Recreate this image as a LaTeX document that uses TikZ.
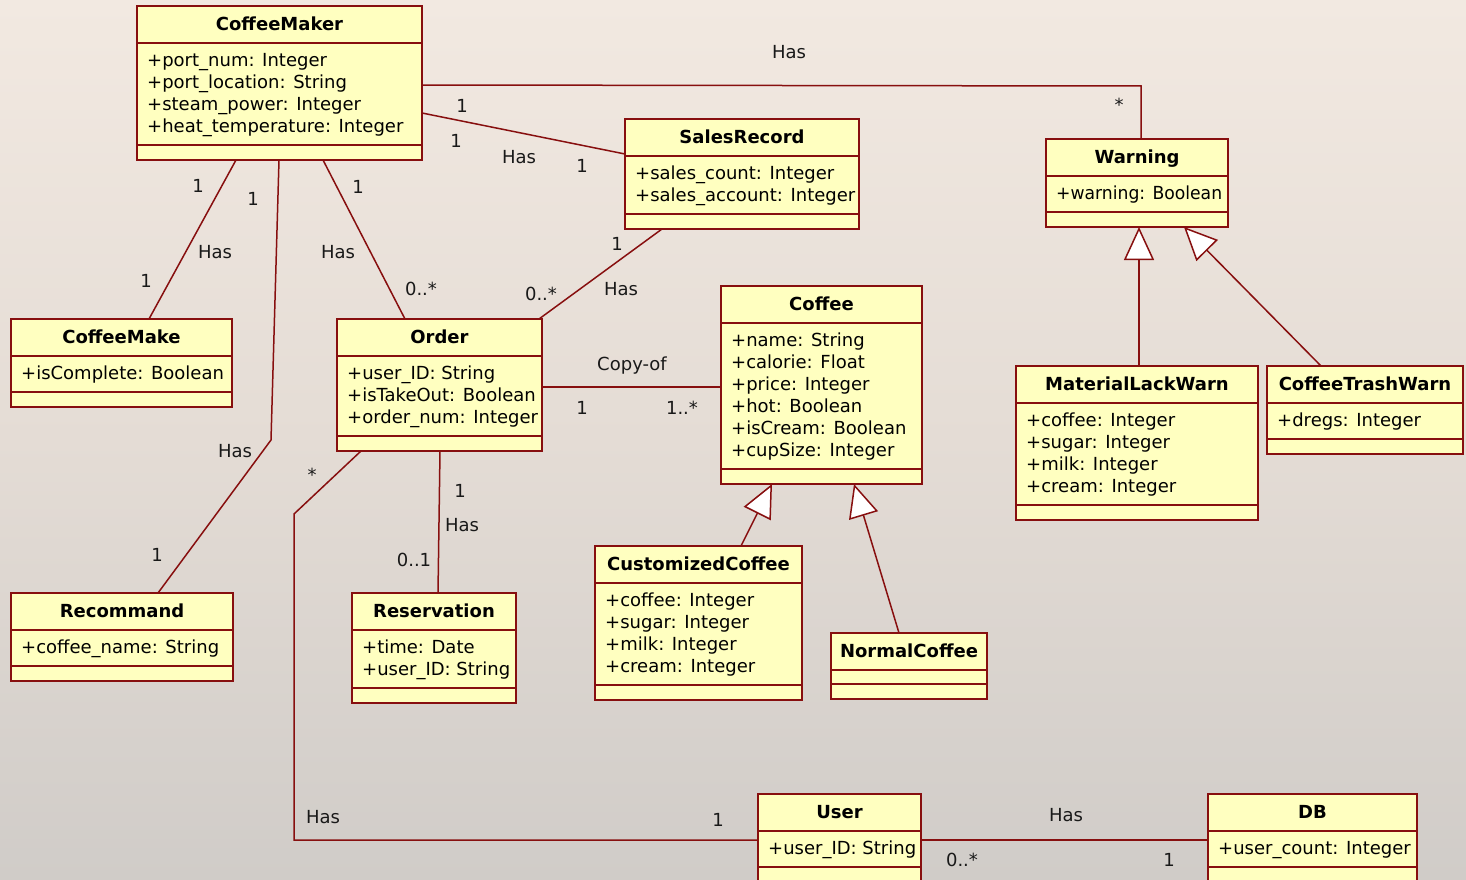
\documentclass[tikz,border=0pt]{standalone}
\usepackage{fontspec}
\setmainfont{DejaVu Sans}
\usetikzlibrary{arrows.meta,calc}
\definecolor{umlred}{RGB}{135,15,15}
\definecolor{umlfill}{RGB}{255,255,192}
\definecolor{bgtop}{RGB}{242,233,225}
\definecolor{bgmid}{RGB}{228,220,213}
\definecolor{bgbot}{RGB}{208,204,200}
\tikzset{
  clsbox/.style={draw=umlred, fill=umlfill, line width=1.8pt, inner sep=0pt, outer sep=0pt},
  clstitle/.style={font=\fontsize{18}{22}\selectfont\bfseries, inner sep=0pt},
  clsattr/.style={font=\fontsize{18}{22}\selectfont, inner sep=0pt},
  clssep/.style={draw=umlred, line width=1.8pt},
  assoc/.style={draw=umlred, line width=1.5pt},
  gen/.style={draw=umlred, line width=1.5pt, -{Triangle[length=33pt,width=30pt,fill=white]}},
  lbl/.style={font=\fontsize{18}{22}\selectfont, inner sep=0pt, text=black!90},
}
\newcommand{\umlclass}[7]{%
  \pgfmathsetmacro{\clsH}{66+22*#6}%
  \pgfmathsetmacro{\clsX}{#2+#4/2}%
  \node[clsbox, anchor=north west, minimum width=#4pt, minimum height=\clsH pt] (#1) at (#2,#3) {};
  \node[clstitle, anchor=base] (#1-t) at (\clsX,#3+24.5) {#5};
  \draw[clssep] ($(#1.north west)+(0,-37pt)$) -- ($(#1.north east)+(0,-37pt)$);
  \draw[clssep] ($(#1.south west)+(0,15pt)$) -- ($(#1.south east)+(0,15pt)$);
  \ifnum#6>0
    \foreach \t [count=\i from 0] in {#7} {\node[clsattr, anchor=base west] (#1-a\i) at (#2+10,#3+60.5+22*\i) {\t};}
  \fi
}
\begin{document}
\begin{tikzpicture}[x=1pt,y=-1pt]
\useasboundingbox (0,0) rectangle (1466,880);
\shade[top color=bgtop, bottom color=bgbot, middle color=bgmid] (0,0) rectangle (1466,880);

% classes
\umlclass{cm}{137}{6}{285}{CoffeeMaker}{4}{+port\_num: Integer,+port\_location: String,+steam\_power: Integer,+heat\_temperature: Integer}
\umlclass{sr}{625}{119}{234}{SalesRecord}{2}{+sales\_count: Integer,+sales\_account: Integer}
\umlclass{warn}{1046}{139}{182}{Warning}{1}{\scalebox{0.955}[1]{+warning: Boolean}}
\umlclass{cmk}{11}{319}{221}{CoffeeMake}{1}{+isComplete: Boolean}
\umlclass{ord}{337}{319}{205}{Order}{3}{+user\_ID: String,+isTakeOut: Boolean,+order\_num: Integer}
\umlclass{cof}{721}{286}{201}{Coffee}{6}{+name: String,+calorie: Float,+price: Integer,+hot: Boolean,+isCream: Boolean,+cupSize: Integer}
\umlclass{mlw}{1016}{366}{242}{MaterialLackWarn}{4}{+coffee: Integer,+sugar: Integer,+milk: Integer,+cream: Integer}
\umlclass{ctw}{1267}{366}{196}{CoffeeTrashWarn}{1}{+dregs: Integer}
\umlclass{rec}{11}{593}{222}{Recommand}{1}{+coffee\_name: String}
\umlclass{res}{352}{593}{164}{Reservation}{2}{+time: Date,+user\_ID: String}
\umlclass{cc}{595}{546}{207}{CustomizedCoffee}{4}{+coffee: Integer,+sugar: Integer,+milk: Integer,+cream: Integer}
\umlclass{nc}{831}{633}{156}{NormalCoffee}{0}{}
\umlclass{usr}{758}{794}{163}{User}{1}{+user\_ID: String}
\umlclass{db}{1208}{794}{209}{DB}{1}{+user\_count: Integer}

% bend points
\coordinate (b1) at (1141,86);
\coordinate (b2) at (271,440);
\coordinate (b3) at (294,514);
\coordinate (b4) at (294,840);

% associations
\draw[assoc] (cm.east |- 0,85) -- (b1) -- (warn.north -| b1);
\draw[assoc] (cm.east |- 0,113) -- (sr.west |- 0,154);
\draw[assoc] (cm.south -| 236,0) -- (cmk.north -| 149,0);
\draw[assoc] (cm.south -| 279,0) -- (b2) -- (rec.north -| 158,0);
\draw[assoc] (cm.south -| 323,0) -- (ord.north -| 405,0);
\draw[assoc] (sr.south -| 662,0) -- (ord.north -| 539,0);
\draw[assoc] (ord.east |- 0,387) -- (cof.west |- 0,387);
\draw[assoc] (ord.south -| 440,0) -- (res.north -| 438,0);
\draw[assoc] (ord.south -| 361,0) -- (b3) -- (b4) -- (usr.west |- b4);
\draw[assoc] (usr.east |- 0,840) -- (db.west |- 0,840);

% generalizations
\draw[gen] (cc.north -| 741,0) -- (cof.south -| 772,0);
\draw[gen] (nc.north -| 899,0) -- (cof.south -| 854,0);
\draw[gen] (mlw.north -| 1139,0) -- (warn.south -| 1139,0);
\draw[gen] (ctw.north -| 1321,0) -- (warn.south -| 1184,0);

% labels
\node[lbl, anchor=base] (l1) at (789,58.5) {Has};
\node[lbl, anchor=base] (l2) at (1119,112) {*};
\node[lbl, anchor=base] (l3) at (462,112.5) {1};
\node[lbl, anchor=base] (l4) at (456,147.5) {1};
\node[lbl, anchor=base] (l5) at (519,163.5) {Has};
\node[lbl, anchor=base] (l6) at (582,172.5) {1};
\node[lbl, anchor=base] (l7) at (198,192.5) {1};
\node[lbl, anchor=base] (l8) at (253,205.5) {1};
\node[lbl, anchor=base] (l9) at (358,193.5) {1};
\node[lbl, anchor=base] (l10) at (215,258.5) {Has};
\node[lbl, anchor=base] (l11) at (338,258.5) {Has};
\node[lbl, anchor=base] (l12) at (146,287.5) {1};
\node[lbl, anchor=base] (l13) at (421,295) {0..*};
\node[lbl, anchor=base] (l14) at (541,300) {0..*};
\node[lbl, anchor=base] (l15) at (621,295.5) {Has};
\node[lbl, anchor=base] (l16) at (617,250.5) {1};
\node[lbl, anchor=base] (l17) at (632,370) {Copy-of};
\node[lbl, anchor=base] (l18) at (582,414.5) {1};
\node[lbl, anchor=base] (l19) at (682,414.5) {1..*};
\node[lbl, anchor=base] (l20) at (235,457.5) {Has};
\node[lbl, anchor=base] (l21) at (312,481) {*};
\node[lbl, anchor=base] (l22) at (460,497.5) {1};
\node[lbl, anchor=base] (l23) at (462,531.5) {Has};
\node[lbl, anchor=base] (l24) at (414,566.5) {0..1};
\node[lbl, anchor=base] (l25) at (157,561.5) {1};
\node[lbl, anchor=base] (l26) at (323,823.5) {Has};
\node[lbl, anchor=base] (l27) at (718,826.5) {1};
\node[lbl, anchor=base] (l28) at (1066,821.5) {Has};
\node[lbl, anchor=base] (l29) at (962,866.5) {0..*};
\node[lbl, anchor=base] (l30) at (1169,866.5) {1};
\end{tikzpicture}
\end{document}
